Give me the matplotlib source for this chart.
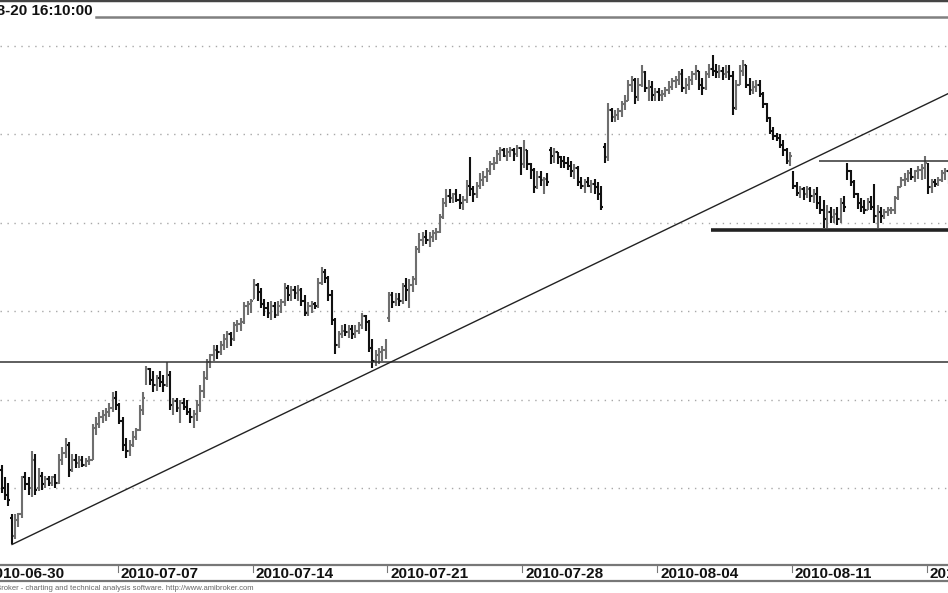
import numpy as np
import matplotlib.pyplot as plt
from matplotlib.lines import Line2D
from matplotlib.transforms import offset_copy

plt.rcParams['font.family'] = ['Liberation Sans', 'DejaVu Sans']

# hourly bars, 8 per session, first visible bar is bar 5 of 2010-06-30
bars_per_day = 8
first_bar = 5

opens = [
    2260, 2250, 2246,
    2233, 2223, 2232, 2235, 2256, 2252, 2250, 2266,
    2250, 2257, 2252, 2255, 2253, 2256, 2253, 2266,
    2270, 2274, 2260, 2266, 2264, 2266, 2263, 2265,
    2266, 2284, 2286, 2290, 2291, 2293, 2295, 2301,
    2297, 2288, 2274, 2271, 2274, 2279, 2283, 2294,
    2311, 2317, 2311, 2308, 2312, 2310, 2308, 2314,
    2297, 2299, 2295, 2298, 2296, 2293, 2290, 2292,
    2297, 2305, 2312, 2321, 2325, 2328, 2327, 2331,
    2334, 2337, 2334, 2342, 2343, 2344, 2353, 2354,
    2357, 2365, 2361, 2354, 2352, 2349, 2353, 2348,
    2353, 2355, 2363, 2359, 2362, 2360, 2362, 2356,
    2349, 2353, 2354, 2353, 2366, 2372, 2369, 2359,
    2345, 2331, 2337, 2339, 2338, 2340, 2337, 2339,
    2342, 2347, 2344, 2329, 2322, 2325, 2327, 2328,
    2346, 2359, 2355, 2357, 2356, 2364, 2362, 2365,
    2368, 2385, 2390, 2392, 2390, 2392, 2394, 2395,
    2403, 2411, 2415, 2414, 2416, 2413, 2411, 2413,
    2421, 2419, 2416, 2421, 2424, 2426, 2429, 2433,
    2434, 2439, 2441, 2438, 2440, 2441, 2439, 2442,
    2433, 2441, 2433, 2430, 2420, 2426, 2424, 2425,
    2441, 2438, 2440, 2437, 2435, 2434, 2432, 2429,
    2431, 2423, 2421, 2423, 2421, 2422, 2420, 2419,
    2443, 2437, 2464, 2460, 2461, 2463, 2467, 2469,
    2478, 2481, 2471, 2478, 2485, 2476, 2477, 2472,
    2474, 2472, 2473, 2475, 2477, 2480, 2481, 2484,
    2476, 2478, 2481, 2484, 2486, 2478, 2476, 2484,
    2487, 2486, 2485, 2486, 2484, 2485, 2483, 2467,
    2478, 2486, 2489, 2478, 2475, 2477, 2478, 2473,
    2467, 2459, 2452, 2449, 2448, 2444, 2441, 2435,
    2428, 2421, 2417, 2419, 2416, 2419, 2415, 2416,
    2411, 2407, 2402, 2406, 2403, 2405, 2402, 2411,
    2432, 2429, 2423, 2416, 2411, 2409, 2407, 2412,
    2420, 2404, 2406, 2404, 2406, 2407, 2407, 2414,
    2420, 2424, 2425, 2428, 2426, 2429, 2430, 2431,
    2433, 2420, 2423, 2422, 2424, 2428, 2429,
]
highs = [
    2263, 2256, 2253,
    2235, 2235, 2236, 2257, 2259, 2256, 2271, 2269,
    2261, 2259, 2257, 2257, 2257, 2258, 2269, 2273,
    2278, 2276, 2269, 2269, 2268, 2268, 2267, 2268,
    2286, 2290, 2293, 2294, 2295, 2298, 2304, 2305,
    2298, 2290, 2278, 2277, 2282, 2284, 2297, 2304,
    2319, 2318, 2316, 2314, 2316, 2314, 2321, 2316,
    2301, 2301, 2300, 2301, 2300, 2295, 2294, 2300,
    2308, 2316, 2323, 2326, 2331, 2331, 2333, 2337,
    2339, 2338, 2344, 2345, 2346, 2355, 2356, 2357,
    2368, 2366, 2363, 2357, 2355, 2356, 2355, 2356,
    2357, 2366, 2365, 2364, 2364, 2365, 2363, 2359,
    2355, 2356, 2355, 2369, 2375, 2374, 2370, 2362,
    2346, 2339, 2342, 2343, 2342, 2342, 2342, 2344,
    2349, 2348, 2345, 2334, 2328, 2329, 2330, 2334,
    2361, 2361, 2360, 2360, 2366, 2369, 2368, 2370,
    2387, 2394, 2395, 2396, 2395, 2396, 2397, 2405,
    2414, 2419, 2419, 2417, 2419, 2416, 2415, 2424,
    2437, 2421, 2423, 2428, 2429, 2431, 2435, 2437,
    2441, 2443, 2442, 2442, 2443, 2442, 2444, 2443,
    2447, 2441, 2434, 2431, 2429, 2429, 2426, 2428,
    2443, 2442, 2440, 2438, 2438, 2437, 2435, 2433,
    2432, 2426, 2425, 2426, 2424, 2425, 2423, 2421,
    2445, 2468, 2465, 2464, 2465, 2469, 2472, 2481,
    2483, 2482, 2482, 2489, 2486, 2481, 2480, 2476,
    2476, 2475, 2477, 2480, 2482, 2483, 2486, 2487,
    2482, 2483, 2486, 2489, 2486, 2482, 2486, 2490,
    2495, 2490, 2489, 2488, 2489, 2489, 2486, 2481,
    2489, 2492, 2489, 2482, 2480, 2481, 2481, 2474,
    2468, 2460, 2454, 2451, 2450, 2447, 2442, 2440,
    2429, 2423, 2421, 2420, 2421, 2420, 2419, 2420,
    2415, 2413, 2410, 2409, 2408, 2409, 2414, 2415,
    2434, 2430, 2424, 2417, 2414, 2413, 2414, 2415,
    2422, 2410, 2409, 2408, 2409, 2409, 2415, 2421,
    2426, 2428, 2430, 2431, 2430, 2432, 2433, 2438,
    2434, 2425, 2425, 2426, 2430, 2431, 2430,
]
lows = [
    2247, 2243, 2240,
    2218, 2221, 2228, 2233, 2249, 2246, 2245, 2246,
    2248, 2249, 2250, 2251, 2251, 2250, 2252, 2263,
    2267, 2256, 2259, 2261, 2261, 2262, 2262, 2263,
    2266, 2280, 2284, 2287, 2288, 2290, 2293, 2294,
    2286, 2271, 2267, 2268, 2273, 2277, 2282, 2291,
    2308, 2308, 2304, 2305, 2307, 2304, 2307, 2294,
    2291, 2293, 2287, 2294, 2291, 2287, 2284, 2288,
    2293, 2301, 2311, 2318, 2322, 2323, 2325, 2328,
    2329, 2330, 2333, 2338, 2339, 2343, 2348, 2349,
    2357, 2356, 2352, 2347, 2346, 2345, 2346, 2347,
    2349, 2353, 2356, 2356, 2357, 2356, 2353, 2347,
    2347, 2349, 2351, 2352, 2365, 2366, 2356, 2342,
    2326, 2329, 2335, 2336, 2335, 2334, 2335, 2337,
    2340, 2339, 2327, 2318, 2319, 2320, 2322, 2323,
    2344, 2352, 2353, 2353, 2354, 2356, 2352, 2361,
    2365, 2383, 2387, 2388, 2386, 2389, 2390, 2394,
    2402, 2409, 2411, 2411, 2412, 2408, 2407, 2411,
    2415, 2412, 2414, 2419, 2421, 2423, 2427, 2430,
    2433, 2435, 2437, 2435, 2437, 2435, 2437, 2427,
    2431, 2430, 2425, 2417, 2419, 2421, 2416, 2421,
    2433, 2434, 2433, 2431, 2431, 2430, 2426, 2425,
    2421, 2419, 2417, 2420, 2417, 2416, 2413, 2407,
    2434, 2435, 2457, 2457, 2458, 2460, 2464, 2469,
    2474, 2467, 2469, 2477, 2474, 2469, 2469, 2469,
    2469, 2469, 2471, 2473, 2475, 2476, 2478, 2474,
    2473, 2475, 2478, 2481, 2475, 2472, 2475, 2482,
    2483, 2482, 2482, 2481, 2482, 2481, 2461, 2464,
    2478, 2483, 2476, 2472, 2473, 2474, 2471, 2465,
    2457, 2450, 2447, 2446, 2442, 2438, 2433, 2432,
    2419, 2415, 2414, 2413, 2414, 2412, 2411, 2408,
    2405, 2397, 2397, 2400, 2400, 2399, 2400, 2406,
    2424, 2421, 2414, 2408, 2406, 2405, 2407, 2407,
    2400, 2397, 2400, 2402, 2404, 2405, 2405, 2413,
    2420, 2421, 2423, 2424, 2423, 2425, 2424, 2425,
    2416, 2417, 2420, 2421, 2423, 2424, 2422,
]
closes = [
    2250, 2246, 2243,
    2222, 2232, 2235, 2256, 2252, 2250, 2266, 2249,
    2257, 2252, 2255, 2253, 2256, 2253, 2266, 2270,
    2274, 2260, 2266, 2264, 2266, 2263, 2265, 2266,
    2284, 2286, 2290, 2291, 2293, 2295, 2301, 2297,
    2288, 2274, 2271, 2274, 2279, 2283, 2294, 2301,
    2317, 2311, 2308, 2312, 2310, 2308, 2314, 2297,
    2299, 2295, 2298, 2296, 2293, 2290, 2292, 2297,
    2305, 2312, 2321, 2325, 2328, 2327, 2331, 2334,
    2337, 2334, 2342, 2343, 2344, 2353, 2354, 2356,
    2365, 2361, 2354, 2352, 2349, 2353, 2348, 2353,
    2355, 2363, 2359, 2362, 2360, 2362, 2356, 2349,
    2353, 2354, 2353, 2366, 2372, 2369, 2359, 2345,
    2331, 2337, 2339, 2338, 2340, 2337, 2339, 2342,
    2347, 2344, 2329, 2322, 2325, 2327, 2328, 2331,
    2359, 2355, 2357, 2356, 2364, 2362, 2365, 2368,
    2385, 2390, 2392, 2390, 2392, 2394, 2395, 2403,
    2411, 2415, 2414, 2416, 2413, 2411, 2413, 2421,
    2419, 2416, 2421, 2424, 2426, 2429, 2433, 2434,
    2439, 2441, 2438, 2440, 2441, 2439, 2442, 2430,
    2441, 2433, 2430, 2420, 2426, 2424, 2425, 2423,
    2438, 2440, 2437, 2435, 2434, 2432, 2429, 2431,
    2423, 2421, 2423, 2421, 2422, 2420, 2416, 2409,
    2435, 2464, 2460, 2461, 2463, 2467, 2469, 2478,
    2481, 2471, 2478, 2485, 2476, 2477, 2472, 2474,
    2472, 2473, 2475, 2477, 2480, 2481, 2484, 2476,
    2478, 2481, 2484, 2486, 2478, 2476, 2484, 2487,
    2486, 2485, 2486, 2484, 2485, 2483, 2465, 2478,
    2486, 2489, 2478, 2475, 2477, 2478, 2473, 2467,
    2459, 2452, 2449, 2448, 2444, 2441, 2435, 2438,
    2421, 2417, 2419, 2416, 2419, 2415, 2416, 2411,
    2407, 2402, 2406, 2403, 2405, 2402, 2411, 2409,
    2429, 2423, 2416, 2411, 2409, 2407, 2412, 2409,
    2404, 2406, 2404, 2406, 2407, 2407, 2414, 2420,
    2424, 2425, 2428, 2426, 2429, 2430, 2431, 2434,
    2420, 2423, 2422, 2424, 2428, 2429, 2426,
]

# weekly date labels (every 5th session)
week_labels = ['2010-06-30', '2010-07-07', '2010-07-14', '2010-07-21',
               '2010-07-28', '2010-08-04', '2010-08-11', '2010-08-18']
grid_levels = [2250, 2300, 2350, 2400, 2450, 2500]

# drawn lines
support_level = 2321
range_low = 2396
range_low_from = 215.5
range_high = 2435
range_high_from = 247.6
trend_start = (8.1, 2218)
trend_end = (300, 2486)

title = '2010-08-20 16:10:00'
footer = 'AmiBroker - charting and technical analysis software. http://www.amibroker.com'

o = np.array(opens)
h = np.array(highs)
l = np.array(lows)
c = np.array(closes)
x = np.arange(first_bar, first_bar + len(c))

fig = plt.figure(figsize=(9.48, 5.93), dpi=100)
ax = fig.add_axes([0, 28 / 593, 1, 565 / 593])

#price bars: black = down, grey = up
cols = np.where(c >= o, '#6e6e6e', '#111111')
ax.vlines(x, l, h, colors=cols, linewidth=1.5)
ax.hlines(o, x - 0.5, x, colors=cols, linewidth=1.5)
ax.hlines(c, x, x + 0.5, colors=cols, linewidth=1.5)

ax.axhline(support_level, color='#333333', linewidth=1.1)
ax.hlines(range_low, range_low_from, 300, color='#222222', linewidth=2.6)
ax.hlines(range_high, range_high_from, 300, color='#333333', linewidth=1.1)
ax.plot([trend_start[0], trend_end[0]], [trend_start[1], trend_end[1]],
        color='#222222', linewidth=1.0)

ax.set_xlim(4.54, 285.85)
ax.set_ylim(2206.4, 2526)
ax.set_yticks(grid_levels)
ax.set_xticks([])
ax.tick_params(left=False, labelleft=False)
ax.grid(axis='y', color='#a8a8a8', linestyle=(0, (1, 4)), linewidth=1.0)
ax.set_axisbelow(True)
for side in ['left', 'right', 'bottom']:
    ax.spines[side].set_visible(False)
ax.spines['top'].set_color('#444444')
ax.spines['top'].set_linewidth(2.5)

#date strip under the chart
trans = ax.get_xaxis_transform()
for k, lab in enumerate(week_labels):
    tx = k * 5 * bars_per_day - 0.5
    ax.plot([tx, tx], [-1 / 565, -7 / 565], transform=trans, color='#777777',
            linewidth=0.8, clip_on=False)
    ax.text(tx, -9 / 565, lab, transform=offset_copy(trans, fig=fig, x=3, units='dots'),
            ha='left', va='center', fontsize=11, fontweight='bold', color='#111111',
            clip_on=False)

fig.add_artist(Line2D([0, 1], [1 - 565 / 593] * 2, color='#777777', linewidth=1.6))
fig.add_artist(Line2D([0, 1], [1 - 581 / 593] * 2, color='#777777', linewidth=1.6))
fig.add_artist(Line2D([96 / 948, 1], [1 - 17 / 593] * 2, color='#808080', linewidth=1.8))

fig.text(93 / 948, 1 - 11 / 593, title, ha='right', va='center', fontsize=11,
         fontweight='bold', color='#111111')
fig.text(253 / 948, 1 - 588 / 593, footer, ha='right', va='center', fontsize=5.5,
         color='#666666')

fig.savefig('out.png', dpi=100)
plt.close(fig)
